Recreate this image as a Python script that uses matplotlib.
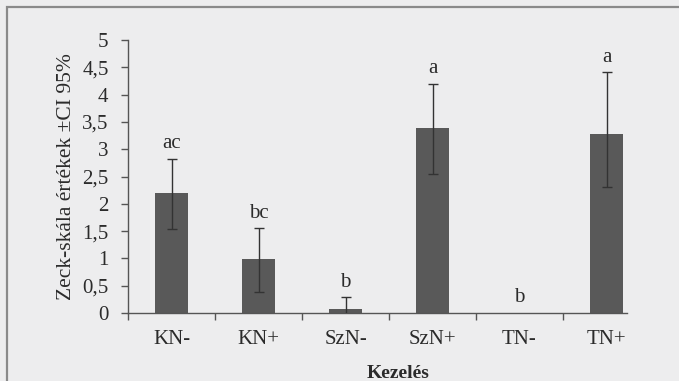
import matplotlib
matplotlib.use('Agg')
import matplotlib.pyplot as plt
from matplotlib.patches import Rectangle
import numpy as np

# Zeck-scale values per treatment with 95% CI
categories = ['KN-', 'KN+', 'SzN-', 'SzN+', 'TN-', 'TN+']
means = [2.19, 0.98, 0.07, 3.38, 0.0, 3.27]
err_low = [0.65, 0.60, 0.22, 0.84, 0.0, 0.97]
err_high = [0.63, 0.57, 0.22, 0.82, 0.0, 1.14]
letters = ['ac', 'bc', 'b', 'a', 'b', 'a']
yticks = [0, 0.5, 1, 1.5, 2, 2.5, 3, 3.5, 4, 4.5, 5]
ytick_labels = ['0', '0,5', '1', '1,5', '2', '2,5', '3', '3,5', '4', '4,5', '5']

plt.rcParams['font.family'] = ['Liberation Serif', 'DejaVu Serif']

W, H = 679, 381
txt = '#2b2b2b'
fig = plt.figure(figsize=(W / 100, H / 100), dpi=100)
fig.patch.set_facecolor('#ededee')

# scan frame
fig.patches.append(Rectangle((7 / W, -0.1), 1.2, 1 - 7 / H + 0.1,
                             transform=fig.transFigure, fill=False,
                             edgecolor='#8a8a8a', linewidth=1.6))

ax = fig.add_axes([128 / W, 1 - 313 / H, 499 / W, 273 / H])
ax.set_facecolor('none')

x = np.arange(len(categories))
ax.bar(x, means, width=0.39, color='#595959', zorder=2)
has_err = [i for i in x if means[i] > 0]
ax.errorbar(x[has_err], np.array(means)[has_err],
            yerr=[np.array(err_low)[has_err], np.array(err_high)[has_err]],
            fmt='none', ecolor='#333333',
            elinewidth=1.0, capsize=3.5, capthick=1.0, zorder=3)

for xi, m, eh, lab in zip(x, means, err_high, letters):
    ax.annotate(lab, (xi, m + eh), xytext=(0, 4), textcoords='offset points',
                ha='center', va='bottom', fontsize=15, color=txt)

ax.set_xlim(-0.5, -0.5 + 499 / 87)
ax.set_ylim(0, 5)
ax.set_yticks(yticks)
ax.set_yticklabels(ytick_labels)

ax.set_xticks(np.arange(len(categories)) - 0.5)
ax.set_xticklabels([])
ax.set_xticks(x, minor=True)
ax.set_xticklabels(categories, minor=True)
ax.tick_params(axis='x', which='minor', length=0, pad=12, labelsize=15, labelcolor=txt)
ax.tick_params(axis='x', which='major', length=5, width=1, color='#555555', direction='out')
ax.tick_params(axis='y', length=5, width=1, color='#555555', labelsize=15, labelcolor=txt, pad=9)

for s in ['top', 'right']:
    ax.spines[s].set_visible(False)
for s in ['left', 'bottom']:
    ax.spines[s].set_color('#555555')
    ax.spines[s].set_linewidth(1.0)

ax.set_ylabel('Zeck-skála értékek ±CI 95%', fontsize=15.5, color=txt)
ax.yaxis.set_label_coords(-52 / 499, 0.5)
ax.set_xlabel('Kezelés', fontsize=14, fontweight='bold', color=txt)
ax.xaxis.set_label_coords((398 - 128) / 499, -(365 - 313) / 273)

fig.savefig('out.png', dpi=100, facecolor=fig.get_facecolor())
